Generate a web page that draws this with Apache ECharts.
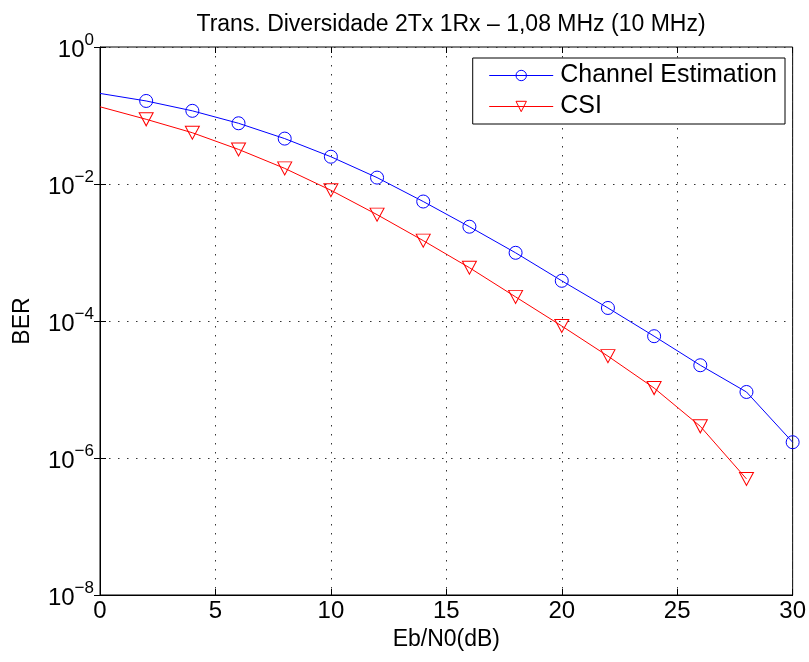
<!DOCTYPE html>
<html>
<head>
<meta charset="utf-8">
<script src="https://cdn.jsdelivr.net/npm/echarts@6/dist/echarts.min.js"></script>
<style>
	html, body { margin: 0; padding: 0; background: #fff; }
	#chart { width: 809px; height: 662px; }
</style>
</head>
<body>
<div id="chart"></div>
<script>
// dados
let snr = [0, 2, 4, 6, 8, 10, 12, 14, 16, 18, 20, 22, 24, 26, 28, 30];
let berEstimation = [0.21, 0.163, 0.117, 0.077, 0.046, 0.025, 0.0124, 0.00555, 0.00238, 0.00099,
	3.86e-4, 1.55e-4, 6.0e-5, 2.26e-5, 9.2e-6, 1.7e-6];
let berCSI = [0.134, 0.088, 0.056, 0.032, 0.0169, 0.0081, 0.00357, 0.00149, 6.0e-4, 2.25e-4,
	8.45e-5, 3.07e-5, 1.05e-5, 2.9e-6, 4.95e-7];

let font = 'Liberation Sans';

(function() {
	let myChart = echarts.init(document.getElementById('chart'));

	// primeiro ponto (0 dB) sem marcador
	function toData(arr) {
		return arr.map(function(v, i) {
			let item = { value: [snr[i], v] };
			if (snr[i] === 0) item.symbol = 'none';
			return item;
		});
	}

	function supLabel(value) {
		let e = Math.round(Math.log10(value));
		let s = e < 0 ? '\u2212' + (-e) : String(e);
		return '{b|10}{e|' + s + '}';
	}

	let dotted = { color: '#333', type: [1.5, 7.5], width: 1 };

	let option = {
		animation: false,
		backgroundColor: '#fff',
		title: {
			text: 'Trans. Diversidade 2Tx 1Rx \u2013 1,08 MHz (10 MHz)',
			left: 446,
			textAlign: 'center',
			top: 8,
			textStyle: { fontFamily: font, fontSize: 23, fontWeight: 'normal', color: '#000' }
		},
		legend: {
			orient: 'vertical',
			right: 24,
			top: 58,
			itemWidth: 64,
			itemHeight: 13,
			itemGap: 6,
			padding: [5, 8, 5, 16],
			backgroundColor: '#fff',
			borderColor: '#000',
			borderWidth: 1,
			lineStyle: { width: 1 },
			itemStyle: { borderWidth: 1 },
			textStyle: { fontFamily: font, fontSize: 25, color: '#000', padding: [0, 0, 0, 2] },
			data: ['Channel Estimation', 'CSI']
		},
		grid: {
			left: 100,
			right: 13,
			top: 47,
			bottom: 67,
			show: true,
			borderColor: '#000',
			borderWidth: 1
		},
		xAxis: [
			{
				type: 'value',
				min: 0,
				max: 30,
				interval: 5,
				name: 'Eb/N0(dB)',
				nameLocation: 'middle',
				nameGap: 30,
				nameTextStyle: { fontFamily: font, fontSize: 23, color: '#000' },
				axisLine: { lineStyle: { color: '#000' } },
				axisTick: { inside: true, length: 6, lineStyle: { color: '#000' } },
				axisLabel: { fontFamily: font, fontSize: 24, color: '#000', margin: 4 },
				splitLine: { show: true, lineStyle: dotted }
			},
			{
				type: 'value',
				position: 'top',
				min: 0,
				max: 30,
				interval: 5,
				axisLine: { show: false },
				axisTick: { inside: true, length: 6, lineStyle: { color: '#000' } },
				axisLabel: { show: false },
				splitLine: { show: false }
			}
		],
		yAxis: [
			{
				type: 'log',
				logBase: 10,
				min: 1e-8,
				max: 1,
				interval: 2,
				name: 'BER',
				nameLocation: 'middle',
				nameGap: 66,
				nameTextStyle: { fontFamily: font, fontSize: 23, color: '#000' },
				axisLine: { lineStyle: { color: '#000' } },
				axisTick: { inside: true, length: 6, lineStyle: { color: '#000' } },
				axisLabel: {
					color: '#000',
					margin: 6,
					formatter: supLabel,
					rich: {
						b: { fontFamily: font, fontSize: 24, color: '#000', verticalAlign: 'bottom', lineHeight: 30 },
						e: { fontFamily: font, fontSize: 17, color: '#000', verticalAlign: 'top', lineHeight: 30, padding: [0, 0, 14, 0] }
					}
				},
				splitLine: { show: true, lineStyle: dotted }
			},
			{
				type: 'log',
				logBase: 10,
				min: 1e-8,
				max: 1,
				interval: 2,
				position: 'right',
				axisLine: { show: false },
				axisTick: { inside: true, length: 6, lineStyle: { color: '#000' } },
				axisLabel: { show: false },
				splitLine: { show: false }
			}
		],
		series: [
			{
				name: 'Channel Estimation',
				type: 'line',
				data: toData(berEstimation),
				symbol: 'circle',
				symbolSize: 13,
				showAllSymbol: true,
				itemStyle: { color: 'rgba(255,255,255,0)', borderColor: '#0000ff', borderWidth: 1 },
				lineStyle: { color: '#0000ff', width: 1 },
				clip: true
			},
			{
				name: 'CSI',
				type: 'line',
				data: toData(berCSI),
				symbol: 'path://M0,0 L10,0 L5,9 Z',
				symbolSize: [14, 13],
				showAllSymbol: true,
				itemStyle: { color: 'rgba(255,255,255,0)', borderColor: '#ff0000', borderWidth: 1 },
				lineStyle: { color: '#ff0000', width: 1 },
				clip: true
			}
		]
	};

	myChart.setOption(option);
})();
</script>
</body>
</html>
